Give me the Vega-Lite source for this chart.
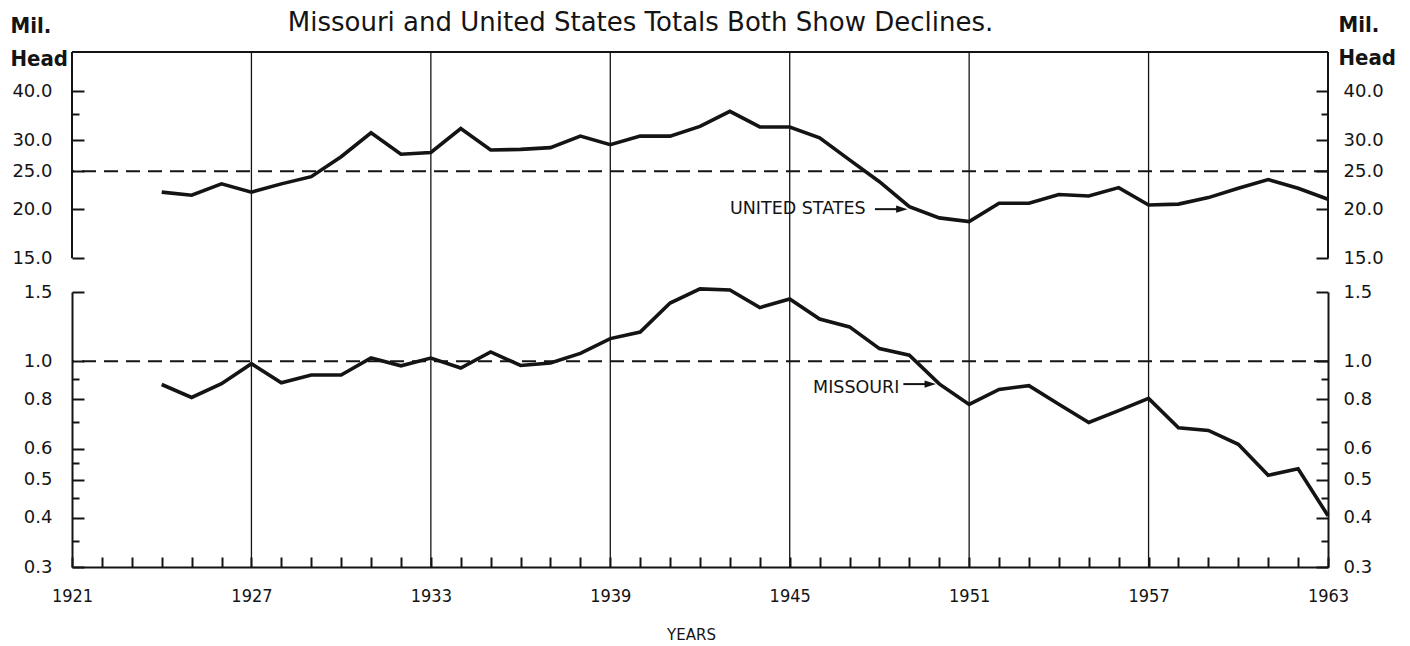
{
  "$schema": "https://vega.github.io/schema/vega-lite/v6.json",
  "background": "white",
  "padding": {"left": 10, "top": 9, "right": 5, "bottom": 0},
  "spacing": 0,
  "bounds": "flush",
  "datasets": {
    "us": [
      {"year": 1924, "value": 22.1}, {"year": 1925, "value": 21.7}, {"year": 1926, "value": 23.2},
      {"year": 1927, "value": 22.1}, {"year": 1928, "value": 23.2}, {"year": 1929, "value": 24.2},
      {"year": 1930, "value": 27.2}, {"year": 1931, "value": 31.3}, {"year": 1932, "value": 27.6},
      {"year": 1933, "value": 27.9}, {"year": 1934, "value": 32.1}, {"year": 1935, "value": 28.3},
      {"year": 1936, "value": 28.4}, {"year": 1937, "value": 28.7}, {"year": 1938, "value": 30.7},
      {"year": 1939, "value": 29.2}, {"year": 1940, "value": 30.7}, {"year": 1941, "value": 30.7},
      {"year": 1942, "value": 32.5}, {"year": 1943, "value": 35.5}, {"year": 1944, "value": 32.4},
      {"year": 1945, "value": 32.4}, {"year": 1946, "value": 30.4}, {"year": 1947, "value": 26.7},
      {"year": 1948, "value": 23.5}, {"year": 1949, "value": 20.3}, {"year": 1950, "value": 19.0},
      {"year": 1951, "value": 18.6}, {"year": 1952, "value": 20.7}, {"year": 1953, "value": 20.7},
      {"year": 1954, "value": 21.8}, {"year": 1955, "value": 21.6}, {"year": 1956, "value": 22.7},
      {"year": 1957, "value": 20.5}, {"year": 1958, "value": 20.6}, {"year": 1959, "value": 21.4},
      {"year": 1960, "value": 22.6}, {"year": 1961, "value": 23.8}, {"year": 1962, "value": 22.6},
      {"year": 1963, "value": 21.2}
    ],
    "mo": [
      {"year": 1924, "value": 0.873}, {"year": 1925, "value": 0.809}, {"year": 1926, "value": 0.877},
      {"year": 1927, "value": 0.986}, {"year": 1928, "value": 0.882}, {"year": 1929, "value": 0.923},
      {"year": 1930, "value": 0.923}, {"year": 1931, "value": 1.02}, {"year": 1932, "value": 0.974},
      {"year": 1933, "value": 1.019}, {"year": 1934, "value": 0.961}, {"year": 1935, "value": 1.056},
      {"year": 1936, "value": 0.976}, {"year": 1937, "value": 0.99}, {"year": 1938, "value": 1.047},
      {"year": 1939, "value": 1.142}, {"year": 1940, "value": 1.186}, {"year": 1941, "value": 1.406},
      {"year": 1942, "value": 1.528}, {"year": 1943, "value": 1.518}, {"year": 1944, "value": 1.369},
      {"year": 1945, "value": 1.44}, {"year": 1946, "value": 1.28}, {"year": 1947, "value": 1.223},
      {"year": 1948, "value": 1.077}, {"year": 1949, "value": 1.036}, {"year": 1950, "value": 0.876},
      {"year": 1951, "value": 0.777}, {"year": 1952, "value": 0.848}, {"year": 1953, "value": 0.867},
      {"year": 1954, "value": 0.778}, {"year": 1955, "value": 0.699}, {"year": 1956, "value": 0.749},
      {"year": 1957, "value": 0.805}, {"year": 1958, "value": 0.678}, {"year": 1959, "value": 0.667},
      {"year": 1960, "value": 0.615}, {"year": 1961, "value": 0.513}, {"year": 1962, "value": 0.533},
      {"year": 1963, "value": 0.405}
    ],
    "grid": [{"year": 1927}, {"year": 1933}, {"year": 1939}, {"year": 1945}, {"year": 1951}, {"year": 1957}],
    "us_label": [{"year": 1943.0, "value": 20.0, "text": "UNITED STATES", "x1": 1947.85, "x2": 1948.7, "head": 1948.75}],
    "mo_label": [{"year": 1945.78, "value": 0.853, "text": "MISSOURI", "x1": 1948.8, "x2": 1949.63, "head": 1949.7, "ay": 0.875}],
    "one": [{}]
  },
  "vconcat": [
    {
      "width": 1256,
      "height": 240,
      "resolve": {"axis": {"y": "independent", "x": "independent"}},
      "layer": [
        {
          "data": {"name": "grid"},
          "mark": {"type": "rule", "stroke": "#141414", "strokeWidth": 1.3},
          "encoding": {
            "x": {"field": "year", "type": "quantitative",
              "scale": {"domain": [1921, 1963], "nice": false, "zero": false},
              "axis": {"orient": "top", "title": "Missouri and United States Totals Both Show Declines.",
                "labels": false, "ticks": false, "domain": false, "grid": false,
                "titleX": 568, "titleY": -22, "titleAlign": "center", "titleBaseline": "alphabetic",
                "titleFontSize": 26, "titleFont": "DejaVu Sans", "titleFontWeight": "normal", "titlePadding": 0}}
          }
        },
        {
          "data": {"name": "one"},
          "mark": {"type": "rule", "strokeDash": [14, 8], "strokeWidth": 2, "stroke": "#141414"},
          "encoding": {"y": {"datum": 25, "type": "quantitative", "axis": null}}
        },
        {
          "data": {"name": "one"},
          "mark": {"type": "rule", "strokeWidth": 2, "stroke": "#141414"},
          "encoding": {"x": {"datum": 1921, "type": "quantitative", "axis": null},
            "y": {"datum": 15, "type": "quantitative", "axis": null}, "y2": {"datum": 50.3}}
        },
        {
          "data": {"name": "one"},
          "mark": {"type": "rule", "strokeWidth": 2, "stroke": "#141414"},
          "encoding": {"x": {"datum": 1963, "type": "quantitative", "axis": null},
            "y": {"datum": 15, "type": "quantitative", "axis": null}, "y2": {"datum": 50.3}}
        },
        {
          "data": {"name": "one"},
          "mark": {"type": "rule", "strokeWidth": 2, "stroke": "#141414"},
          "encoding": {"x": {"datum": 1921, "type": "quantitative", "axis": null}, "x2": {"datum": 1963},
            "y": {"datum": 50.3, "type": "quantitative", "axis": null}}
        },
        {
          "data": {"name": "us"},
          "mark": {"type": "line", "stroke": "#141414", "strokeWidth": 3.6},
          "encoding": {
            "x": {"field": "year", "type": "quantitative", "scale": {"domain": [1921, 1963], "nice": false, "zero": false}, "axis": null},
            "y": {"field": "value", "type": "quantitative",
              "scale": {"type": "log", "domain": [12.3, 50.3], "nice": false},
              "axis": {"orient": "left", "values": [15, 20, 25, 30, 40], "format": ".1f",
                "tickSize": -12, "tickWidth": 2, "labelPadding": 32, "labelFontSize": 18, "labelFont": "DejaVu Sans",
                "labelOverlap": false, "domain": false, "grid": false,
                "title": ["Mil.", "Head"], "titleAngle": 0, "titleAlign": "left", "titleBaseline": "alphabetic",
                "titleX": -62, "titleY": -20, "titleFont": "DejaVu Sans Condensed", "titleFontWeight": "bold",
                "titleFontSize": 22, "titleLineHeight": 33}}
          }
        },
        {
          "data": {"name": "us"},
          "mark": {"type": "line", "strokeOpacity": 0},
          "encoding": {
            "x": {"field": "year", "type": "quantitative", "axis": null},
            "y": {"field": "value", "type": "quantitative",
              "axis": {"orient": "right", "values": [15, 20, 25, 30, 40], "format": ".1f",
                "tickSize": -12, "tickWidth": 2, "labelPadding": 27, "labelFontSize": 18, "labelFont": "DejaVu Sans",
                "labelOverlap": false, "domain": false, "grid": false,
                "title": ["Mil.", "Head"], "titleAngle": 0, "titleAlign": "left", "titleBaseline": "alphabetic",
                "titleX": 10, "titleY": -21, "titleFont": "DejaVu Sans Condensed", "titleFontWeight": "bold",
                "titleFontSize": 22, "titleLineHeight": 33}}
          }
        },
        {
          "data": {"name": "us"},
          "mark": {"type": "line", "strokeOpacity": 0},
          "encoding": {
            "x": {"field": "year", "type": "quantitative", "axis": null},
            "y": {"field": "value", "type": "quantitative",
              "axis": {"orient": "left", "values": [35], "labels": false, "tickSize": -7, "tickWidth": 2,
                "domain": false, "grid": false, "title": null}}
          }
        },
        {
          "data": {"name": "us"},
          "mark": {"type": "line", "strokeOpacity": 0},
          "encoding": {
            "x": {"field": "year", "type": "quantitative", "axis": null},
            "y": {"field": "value", "type": "quantitative",
              "axis": {"orient": "right", "values": [35], "labels": false, "tickSize": -7, "tickWidth": 2,
                "domain": false, "grid": false, "title": null}}
          }
        },
        {
          "data": {"name": "us_label"},
          "mark": {"type": "text", "align": "left", "baseline": "middle", "font": "DejaVu Sans", "fontSize": 17.5, "color": "#141414"},
          "encoding": {
            "x": {"field": "year", "type": "quantitative", "axis": null},
            "y": {"field": "value", "type": "quantitative", "axis": null},
            "text": {"field": "text"}
          }
        },
        {
          "data": {"name": "us_label"},
          "mark": {"type": "rule", "strokeWidth": 2, "stroke": "#141414"},
          "encoding": {
            "x": {"field": "x1", "type": "quantitative", "axis": null}, "x2": {"field": "x2"},
            "y": {"field": "value", "type": "quantitative", "axis": null}
          }
        },
        {
          "data": {"name": "us_label"},
          "mark": {"type": "point", "shape": "M-1,-0.65L1,0L-1,0.65Z", "filled": true, "size": 130, "color": "#141414", "opacity": 1},
          "encoding": {
            "x": {"field": "head", "type": "quantitative", "axis": null},
            "y": {"field": "value", "type": "quantitative", "axis": null}
          }
        }
      ]
    },
    {
      "width": 1256,
      "height": 275,
      "resolve": {"axis": {"y": "independent", "x": "independent"}},
      "layer": [
        {
          "data": {"name": "grid"},
          "mark": {"type": "rule", "stroke": "#141414", "strokeWidth": 1.3},
          "encoding": {
            "x": {"field": "year", "type": "quantitative",
              "scale": {"domain": [1921, 1963], "nice": false, "zero": false},
              "axis": {"orient": "bottom",
                "values": [1921,1922,1923,1924,1925,1926,1927,1928,1929,1930,1931,1932,1933,1934,1935,1936,1937,1938,1939,1940,1941,1942,1943,1944,1945,1946,1947,1948,1949,1950,1951,1952,1953,1954,1955,1956,1957,1958,1959,1960,1961,1962,1963],
                "format": "d", "labelExpr": "(datum.value - 1921) % 6 == 0 ? datum.label : ''",
                "labelFlush": false, "labelOverlap": false, "labelBaseline": "alphabetic",
                "tickSize": -10, "tickWidth": 2, "labelPadding": 44, "labelFontSize": 18, "labelFont": "DejaVu Sans Condensed",
                "domain": true, "domainWidth": 2, "grid": false,
                "title": "YEARS", "titleX": 619, "titleY": 72, "titleAlign": "center", "titleBaseline": "alphabetic",
                "titleFont": "DejaVu Sans", "titleFontWeight": "normal", "titleFontSize": 15}}
          }
        },
        {
          "data": {"name": "one"},
          "mark": {"type": "rule", "strokeDash": [14, 8], "strokeWidth": 2, "stroke": "#141414"},
          "encoding": {"y": {"datum": 1.0, "type": "quantitative", "axis": null}}
        },
        {
          "data": {"name": "mo"},
          "mark": {"type": "line", "stroke": "#141414", "strokeWidth": 3.6},
          "encoding": {
            "x": {"field": "year", "type": "quantitative", "scale": {"domain": [1921, 1963], "nice": false, "zero": false}, "axis": null},
            "y": {"field": "value", "type": "quantitative",
              "scale": {"type": "log", "domain": [0.3, 1.5], "nice": false},
              "axis": {"orient": "left", "values": [0.3, 0.4, 0.5, 0.6, 0.8, 1.0, 1.5], "format": ".1f",
                "tickSize": -12, "tickWidth": 2, "labelPadding": 32, "labelFontSize": 18, "labelFont": "DejaVu Sans",
                "labelOverlap": false, "domain": true, "domainWidth": 2, "grid": false, "title": null}}
          }
        },
        {
          "data": {"name": "mo"},
          "mark": {"type": "line", "strokeOpacity": 0},
          "encoding": {
            "x": {"field": "year", "type": "quantitative", "axis": null},
            "y": {"field": "value", "type": "quantitative",
              "axis": {"orient": "right", "values": [0.3, 0.4, 0.5, 0.6, 0.8, 1.0, 1.5], "format": ".1f",
                "tickSize": -12, "tickWidth": 2, "labelPadding": 27, "labelFontSize": 18, "labelFont": "DejaVu Sans",
                "labelOverlap": false, "domain": true, "domainWidth": 2, "grid": false, "title": null}}
          }
        },
        {
          "data": {"name": "mo"},
          "mark": {"type": "line", "strokeOpacity": 0},
          "encoding": {
            "x": {"field": "year", "type": "quantitative", "axis": null},
            "y": {"field": "value", "type": "quantitative",
              "axis": {"orient": "left", "values": [0.35, 0.45, 0.55, 0.7, 0.9], "labels": false, "tickSize": -7, "tickWidth": 2,
                "domain": false, "grid": false, "title": null}}
          }
        },
        {
          "data": {"name": "mo"},
          "mark": {"type": "line", "strokeOpacity": 0},
          "encoding": {
            "x": {"field": "year", "type": "quantitative", "axis": null},
            "y": {"field": "value", "type": "quantitative",
              "axis": {"orient": "right", "values": [0.35, 0.45, 0.55, 0.7, 0.9], "labels": false, "tickSize": -7, "tickWidth": 2,
                "domain": false, "grid": false, "title": null}}
          }
        },
        {
          "data": {"name": "mo_label"},
          "mark": {"type": "text", "align": "left", "baseline": "middle", "font": "DejaVu Sans", "fontSize": 17.5, "color": "#141414"},
          "encoding": {
            "x": {"field": "year", "type": "quantitative", "axis": null},
            "y": {"field": "value", "type": "quantitative", "axis": null},
            "text": {"field": "text"}
          }
        },
        {
          "data": {"name": "mo_label"},
          "mark": {"type": "rule", "strokeWidth": 2, "stroke": "#141414"},
          "encoding": {
            "x": {"field": "x1", "type": "quantitative", "axis": null}, "x2": {"field": "x2"},
            "y": {"field": "ay", "type": "quantitative", "axis": null}
          }
        },
        {
          "data": {"name": "mo_label"},
          "mark": {"type": "point", "shape": "M-1,-0.65L1,0L-1,0.65Z", "filled": true, "size": 130, "color": "#141414", "opacity": 1},
          "encoding": {
            "x": {"field": "head", "type": "quantitative", "axis": null},
            "y": {"field": "ay", "type": "quantitative", "axis": null}
          }
        }
      ]
    }
  ],
  "config": {
    "view": {"stroke": null},
    "axis": {"labelColor": "#141414", "tickColor": "#141414", "domainColor": "#141414", "titleColor": "#141414"}
  }
}
